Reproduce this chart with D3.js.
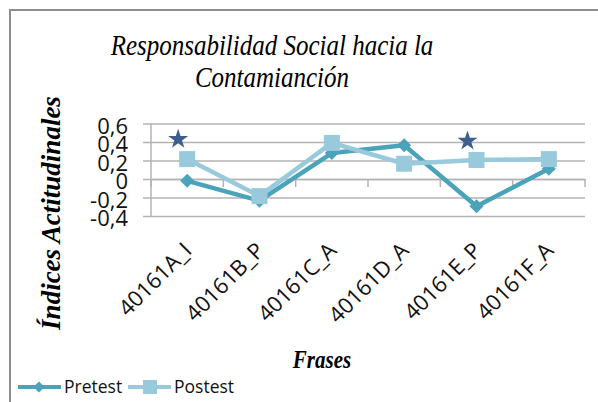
<!DOCTYPE html>
<html><head><meta charset="utf-8">
<script src="https://cdn.jsdelivr.net/npm/d3@7"></script>
<style>html,body{margin:0;padding:0;background:#fff;}svg{display:block;}</style>
</head><body>
<svg id="c" width="598" height="402"></svg>
<script>
const categories = ["40161A_I","40161B_P","40161C_A","40161D_A","40161E_P","40161F_A"];
const pretest = [-0.02, -0.235, 0.28, 0.365, -0.295, 0.11];
const postest = [0.215, -0.185, 0.39, 0.165, 0.205, 0.215];
const starCats = ["40161A_I","40161E_P"];
const starValues = [0.43, 0.41];
const yTicks = [-0.4, -0.2, 0, 0.2, 0.4, 0.6];
const yTickLabels = ["-0,4","-0,2","0","0,2","0,4","0,6"];
const titleLines = ["Responsabilidad Social hacia la","Contamianción"];
const seriesNames = ["Pretest","Postest"];

const svg = d3.select("#c");
const W = 598, H = 402;
const plot = {l:151, r:585, t:123.5, b:216};
const cPre = "#4aa3b9", cPost = "#98cadc", cStar = "#3e5f8e";
const labelFont = "'Open Sans', sans-serif";
const serifFont = "'Liberation Serif', Tinos, 'Times New Roman', Times, 'DejaVu Serif', serif";

svg.append("rect").attr("x",10).attr("y",10).attr("width",W).attr("height",H)
  .attr("fill","#fff").attr("stroke","#8e8e8e").attr("stroke-width",2);

const x = d3.scaleBand().domain(categories).range([plot.l, plot.r]).padding(0);
const y = d3.scaleLinear().domain([-0.4, 0.6]).range([plot.b, plot.t]);
const cx = d => x(d) + x.bandwidth()/2;

// gridlines + y axis
const yAxis = d3.axisLeft(y).tickValues(yTicks)
  .tickFormat((d,i)=>yTickLabels[i])
  .tickSize(-(plot.r - plot.l) - 8).tickPadding(15);
const gy = svg.append("g").attr("transform",`translate(${plot.l - 8},0)`).call(yAxis);
gy.select(".domain").remove();
gy.selectAll(".tick line").attr("stroke","#b3b3b3").attr("stroke-width",1.5);
gy.selectAll(".tick text").attr("font-family",labelFont).attr("font-size",22).attr("fill","#111").attr("dy","0.45em");
svg.append("line").attr("x1",plot.l).attr("x2",plot.l).attr("y1",plot.t).attr("y2",plot.b)
  .attr("stroke","#b3b3b3").attr("stroke-width",1.5);

// x axis at zero
const xAxis = d3.axisBottom(x).tickSize(0).tickFormat("");
const gx = svg.append("g").attr("transform",`translate(0,${y(0)})`).call(xAxis);
gx.select(".domain").attr("stroke","#b3b3b3").attr("stroke-width",1.5);
const bounds = categories.map(c=>x(c)).concat([plot.r]);
svg.append("g").selectAll("line").data(bounds).join("line")
  .attr("x1",d=>d).attr("x2",d=>d).attr("y1",y(0)).attr("y2",y(0)+8)
  .attr("stroke","#b3b3b3").attr("stroke-width",1.5);

// category labels
svg.append("g").selectAll("text").data(categories).join("text")
  .attr("transform",d=>`translate(${cx(d)+6},${plot.b+36}) rotate(-45)`)
  .attr("text-anchor","end").attr("font-family",labelFont).attr("font-size",22).attr("fill","#111")
  .text(d=>d);

// series
const line = d3.line().x((d,i)=>cx(categories[i])).y(d=>y(d));
svg.append("path").datum(pretest).attr("d",line).attr("fill","none")
  .attr("stroke",cPre).attr("stroke-width",4.5).attr("stroke-linejoin","round");
svg.append("g").selectAll("path").data(pretest).join("path")
  .attr("d",d3.symbol(d3.symbolDiamond2, 125)).attr("fill",cPre)
  .attr("transform",(d,i)=>`translate(${cx(categories[i])},${y(d)})`);
svg.append("path").datum(postest).attr("d",line).attr("fill","none")
  .attr("stroke",cPost).attr("stroke-width",4.5).attr("stroke-linejoin","round");
svg.append("g").selectAll("rect").data(postest).join("rect")
  .attr("x",(d,i)=>cx(categories[i])-8).attr("y",d=>y(d)-8).attr("width",16).attr("height",16)
  .attr("fill",cPost);

// stars
svg.append("g").selectAll("path").data(starValues).join("path")
  .attr("d",d3.symbol(d3.symbolStar, 125)).attr("fill",cStar)
  .attr("transform",(d,i)=>`translate(${cx(starCats[i])-9},${y(d)})`);

// title (vertically stretched like the reference)
svg.append("g").selectAll("text").data(titleLines).join("text")
  .attr("transform",(d,i)=>`translate(272,${55+i*32}) scale(1,1.18)`).attr("text-anchor","middle")
  .attr("font-family",serifFont).attr("font-style","italic")
  .attr("font-size",25).attr("fill","#000").text(d=>d);

// axis titles
svg.append("text").attr("transform","translate(60,213) rotate(-90)").attr("text-anchor","middle")
  .attr("font-family",serifFont).attr("font-style","italic").attr("font-weight","bold")
  .attr("font-size",27).text("Índices Actitudinales");
svg.append("text").attr("transform","translate(322,368) scale(1,1.18)").attr("text-anchor","middle")
  .attr("font-family",serifFont).attr("font-style","italic").attr("font-weight","bold")
  .attr("font-size",21).text("Frases");

// legend
const leg = svg.append("g");
const legX = [18, 128];
const legCol = [cPre, cPost];
seriesNames.forEach((n,i)=>{
  const g = leg.append("g").attr("transform",`translate(${legX[i]},387)`);
  g.append("line").attr("x1",0).attr("x2",43).attr("stroke",legCol[i]).attr("stroke-width",4);
  if(i===0) g.append("path").attr("d",d3.symbol(d3.symbolDiamond2,80)).attr("fill",legCol[i]).attr("transform","translate(21,0)");
  else g.append("rect").attr("x",15).attr("y",-7).attr("width",14).attr("height",14).attr("fill",legCol[i]);
  g.append("text").attr("x",46).attr("y",0).attr("dy","0.36em").attr("font-family",labelFont)
    .attr("font-size",17.5).attr("fill","#111").text(n);
});
</script>
</body></html>
